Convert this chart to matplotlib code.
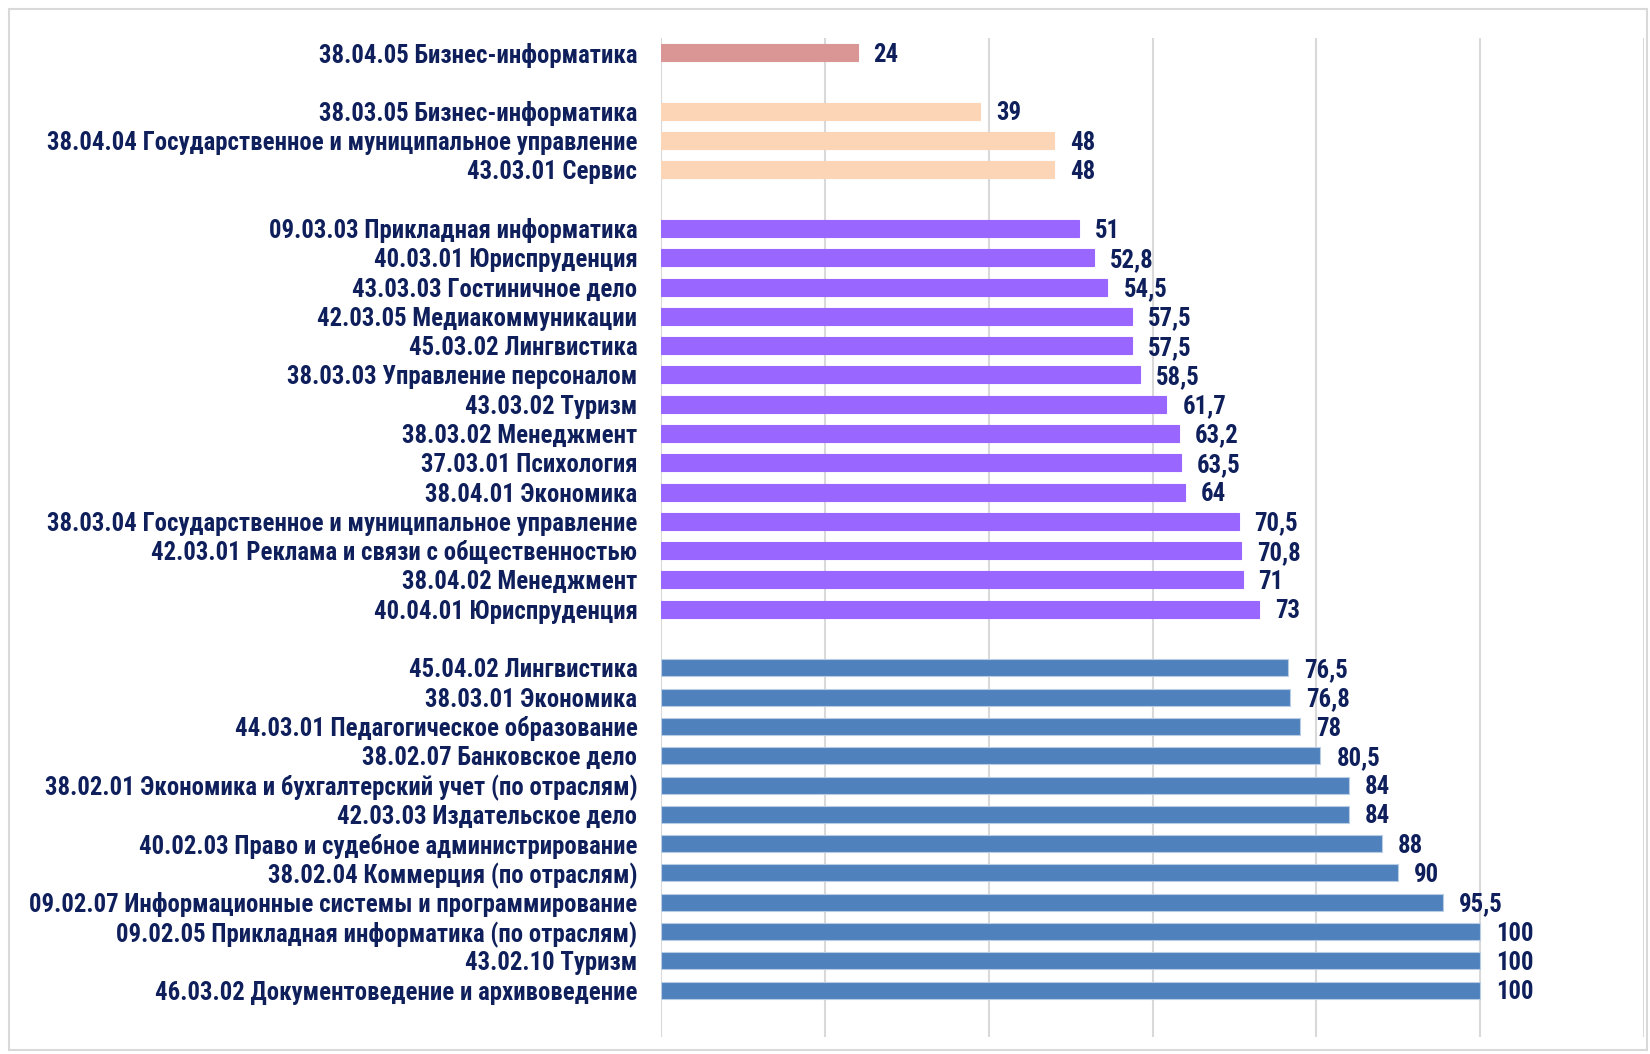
import matplotlib
matplotlib.use("Agg")
import matplotlib.pyplot as plt
from matplotlib import font_manager
from matplotlib.patches import Rectangle

# Группы направлений (сверху вниз)
labels_red = ["38.04.05 Бизнес-информатика"]
values_red = [24]

labels_peach = [
    "38.03.05 Бизнес-информатика",
    "38.04.04 Государственное и муниципальное управление",
    "43.03.01 Сервис",
]
values_peach = [39, 48, 48]

labels_purple = [
    "09.03.03 Прикладная информатика",
    "40.03.01 Юриспруденция",
    "43.03.03 Гостиничное дело",
    "42.03.05 Медиакоммуникации",
    "45.03.02 Лингвистика",
    "38.03.03 Управление персоналом",
    "43.03.02 Туризм",
    "38.03.02 Менеджмент",
    "37.03.01 Психология",
    "38.04.01 Экономика",
    "38.03.04 Государственное и муниципальное управление",
    "42.03.01 Реклама и связи с общественностью",
    "38.04.02 Менеджмент",
    "40.04.01 Юриспруденция",
]
values_purple = [51, 52.8, 54.5, 57.5, 57.5, 58.5, 61.7, 63.2, 63.5, 64, 70.5, 70.8, 71, 73]

labels_blue = [
    "45.04.02 Лингвистика",
    "38.03.01 Экономика",
    "44.03.01 Педагогическое образование",
    "38.02.07 Банковское дело",
    "38.02.01 Экономика и бухгалтерский учет (по отраслям)",
    "42.03.03 Издательское дело",
    "40.02.03 Право и судебное администрирование",
    "38.02.04 Коммерция (по отраслям)",
    "09.02.07 Информационные системы и программирование",
    "09.02.05 Прикладная информатика (по отраслям)",
    "43.02.10 Туризм",
    "46.03.02 Документоведение и архивоведение",
]
values_blue = [76.5, 76.8, 78, 80.5, 84, 84, 88, 90, 95.5, 100, 100, 100]

groups = [
    (labels_red, values_red, "#D99694"),
    (labels_peach, values_peach, "#FBD5B5"),
    (labels_purple, values_purple, "#9966FF"),
    (labels_blue, values_blue, "#4F81BD"),
]

text_color = "#0E1F5B"

# узкий шрифт, похожий на Calibri
installed = {f.name for f in font_manager.fontManager.ttflist}
for name in ["Liberation Sans Narrow", "Roboto Condensed", "Open Sans Condensed", "Roboto", "Noto Sans"]:
    if name in installed:
        font = name
        break
else:
    font = "DejaVu Sans"

fig = plt.figure(figsize=(16.5, 10.54), dpi=100)
fig.patches.append(Rectangle((9 / 1650, 1 - 1050 / 1054), 1638 / 1650, 1041 / 1054,
                             transform=fig.transFigure, fill=False,
                             edgecolor="#D9D9D9", linewidth=1.5))
ax = fig.add_axes([661 / 1650, 1 - 1037 / 1054, 983 / 1650, 999 / 1054])

# подбор размера шрифта по ширине самой длинной подписи (~591 px)
probe = fig.text(0, 0, labels_peach[1], fontsize=16, fontweight="bold", family=font)
w = probe.get_window_extent(fig.canvas.get_renderer()).width
probe.remove()
fs = min(19.0, 16 * 591 / w)

pos = 0
yticks, ylabels = [], []
for labels, values, color in groups:
    ys = list(range(pos, pos + len(values)))
    edge = "#B8CCE4" if color == "#4F81BD" else color
    ax.barh(ys, values, height=0.58, color=color, edgecolor=edge, linewidth=0.8, zorder=3)
    for y, v in zip(ys, values):
        txt = f"{v:g}".replace(".", ",")
        ax.annotate(txt, (v, y), xytext=(11.5, -1.5), textcoords="offset points",
                    va="center", ha="left", fontsize=fs, fontweight="bold",
                    color=text_color, family=font)
    yticks += ys
    ylabels += labels
    pos += len(values) + 1

ax.set_yticks(yticks)
ax.set_yticklabels(ylabels, fontsize=fs, fontweight="bold", color=text_color, family=font)
ax.set_ylim(33.6, -0.5)
ax.set_xlim(0, 120)
ax.set_xticks([0, 20, 40, 60, 80, 100, 120])
ax.set_xticklabels([])
ax.tick_params(axis="both", length=0)
ax.tick_params(axis="y", pad=17)
ax.grid(axis="x", color="#D9D9D9", linewidth=1.5, zorder=0)
for s in ax.spines.values():
    s.set_visible(False)

fig.savefig("out.png", dpi=100)
